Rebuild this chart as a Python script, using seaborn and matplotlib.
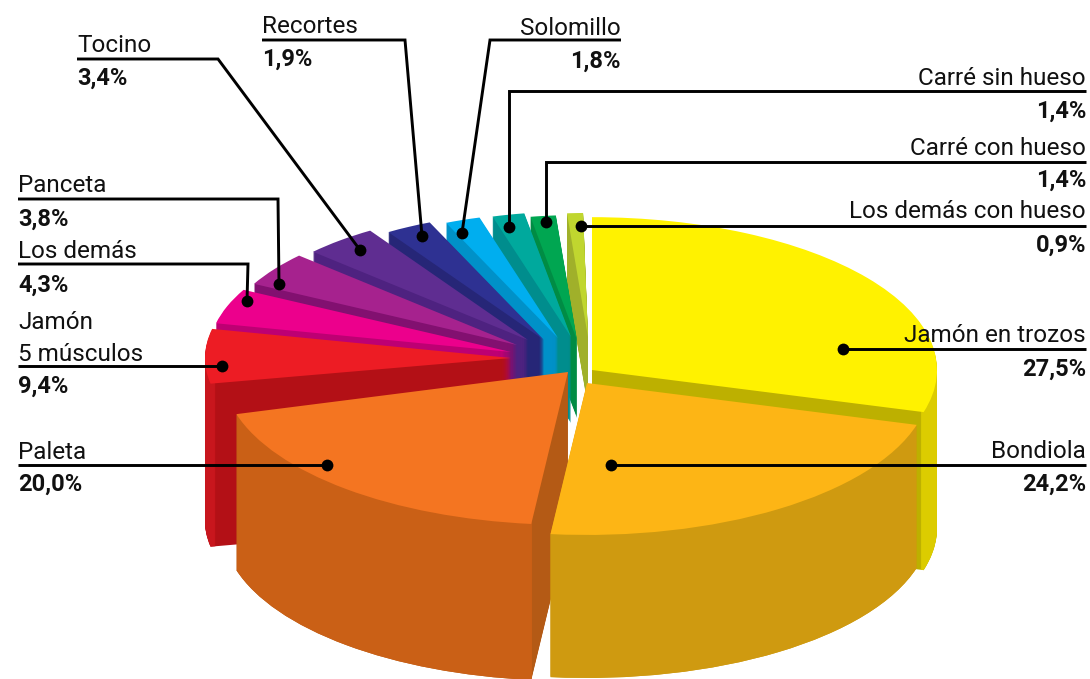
import numpy as np
import matplotlib
matplotlib.use("Agg")
import matplotlib.pyplot as plt
from matplotlib.patches import Wedge
import seaborn as sns

# ---- data ----
categories = ["Jamón en trozos", "Bondiola", "Paleta", "Jamón\n5 músculos", "Los demás", "Panceta",
              "Tocino", "Recortes", "Solomillo", "Carré sin hueso", "Carré con hueso", "Los demás con hueso"]
values = [27.5, 24.2, 20.0, 9.4, 4.3, 3.8, 3.4, 1.9, 1.8, 1.4, 1.4, 0.9]
value_labels = ["27,5%", "24,2%", "20,0%", "9,4%", "4,3%", "3,8%", "3,4%", "1,9%", "1,8%", "1,4%", "1,4%", "0,9%"]

# ---- colours ----
top_colors = ["#FFF200", "#FDB515", "#F47521", "#ED1C24", "#EC008C", "#A6228E",
              "#5F2D91", "#2E3192", "#00AEEF", "#00A99D", "#00A651", "#C0D62F"]
cut_colors = ["#BDB000", "#CF9A10", "#B45A15", "#B31016", "#BD0073", "#821070",
              "#4E2280", "#262677", "#0091C8", "#008D8D", "#008C44", "#A0B02A"]
rim_colors = ["#DCCC00", "#CF9A10", "#CA6016", "#C8161D", "#BD0073", "#821070",
              "#4E2280", "#262677", "#0091C8", "#008D8D", "#008C44", "#A0B02A"]

# ---- layout of the exploded 3-D look (pixels of a 1090x679 canvas) ----
K = 0.443
apex_x = [592, 587, 568, 511, 511, 517, 528, 544, 558, 571, 577, 588]
apex_y = [370, 383, 372, 358, 352, 345, 340, 340, 338, 337, 340, 337]
radius = [345, 343, 345, 306, 302, 297, 293, 289, 283, 283, 282, 280]
depth = [158, 143, 156, 163, 85, 85, 85, 85, 85, 86, 78, 70]
rim_width = [3, 8, 8, 5, 3, 3, 3, 3, 3, 3, 3, 3]
paint_order = [11, 10, 9, 8, 7, 6, 5, 4, 3, 0, 2, 1]
# the printed chart's angular distortion: data angle -> drawn angle (deg clockwise from top)
front_in, front_out = [0, 99, 186, 258], [0, 106, 186, 254]
back_in = [258, 291.96, 307.44, 321.12, 333.36, 340.2, 346.68, 351.72, 356.76, 360]
back_out = [259, 282.4, 297.7, 312.8, 327.4, 336.7, 343.9, 350.5, 355.7, 359]

# ---- label layout ----
leaders = [
    ([(1086, 349), (843, 349)]), ([(1086, 465), (611, 465)]), ([(18, 465), (327, 465)]),
    ([(18, 366), (222, 366)]), ([(18, 264), (248, 264), (247, 301)]),
    ([(18, 199), (278, 199), (279, 284)]), ([(77, 59), (218, 59), (360, 250)]),
    ([(262, 40), (405, 40), (422, 236)]), ([(621, 40), (490, 40), (462, 233)]),
    ([(1086, 91), (509, 91), (509, 227)]), ([(1086, 162), (546, 162), (546, 222)]),
    ([(1086, 226), (581, 226)]),
]
text_x = [1086, 1086, 18, 18, 18, 18, 77, 262, 621, 1086, 1086, 1086]
text_ha = ["right", "right", "left", "left", "left", "left", "left", "left", "right", "right", "right", "right"]
name_base = [342, 458, 459, 361, 258, 192, 52, 33, 35, 85, 155, 218]
pct_base = [376, 491, 491, 393, 292, 226, 85, 66, 68, 118, 187, 252]

sns.set_theme(style="white")
plt.rcParams["font.family"] = ["Roboto", "DejaVu Sans"]

fig = plt.figure(figsize=(10.9, 6.79), dpi=100)
ax = fig.add_axes([0, 0, 1, 1])
wedges, _ = ax.pie(values, startangle=90, counterclock=False, radius=1)
ax.set_aspect("auto")
ax.set_xlim(0, 1090)
ax.set_ylim(0, 679 / K)
ax.axis("off")


def to_y(py):
    return (679 - py) / K


for z, i in enumerate(paint_order):
    w = wedges[i]
    cw_a, cw_b = 90 - w.theta2, 90 - w.theta1
    if i <= 2:
        a, b = np.interp([cw_a, cw_b], front_in, front_out)
    else:
        a, b = np.interp([cw_a, cw_b], back_in, back_out)
    t1, t2 = 90 - b, 90 - a
    base = z * 1000
    # cut wall: the sector stacked downwards
    for d in range(depth[i], 0, -1):
        ax.add_patch(Wedge((apex_x[i], to_y(apex_y[i] + d)), radius[i], t1, t2, fc=cut_colors[i],
                           ec="none", lw=0, zorder=base + 1))
    # outer wall: only the front half of the rim is visible
    r1, r2 = max(t1, -180), min(t2, 0)
    if r2 > r1:
        for d in range(depth[i], 0, -1):
            ax.add_patch(Wedge((apex_x[i], to_y(apex_y[i] + d)), radius[i], r1, r2, width=rim_width[i],
                               fc=rim_colors[i], ec="none", lw=0, zorder=base + 2))
    # top face: the pie's own wedge
    w.set_center((apex_x[i], to_y(apex_y[i])))
    w.set_radius(radius[i])
    w.set_theta1(t1)
    w.set_theta2(t2)
    w.set_facecolor(top_colors[i])
    w.set_edgecolor("none")
    w.set_linewidth(0)
    w.set_zorder(base + 3)

# overlay in pixel coordinates for the labels
ov = fig.add_axes([0, 0, 1, 1], facecolor="none")
ov.set_xlim(0, 1090)
ov.set_ylim(679, 0)
ov.axis("off")
for i, path in enumerate(leaders):
    xs, ys = zip(*path)
    ov.plot(xs, ys, color="black", lw=2.1, solid_joinstyle="miter", solid_capstyle="butt")
    ov.plot(xs[-1], ys[-1], "o", color="black", ms=8.5, mew=0)
    ov.text(text_x[i], name_base[i], categories[i], ha=text_ha[i], va="baseline", fontsize=17.5,
            color="#111111", linespacing=1.52)
    ov.text(text_x[i], pct_base[i], value_labels[i], ha=text_ha[i], va="baseline", fontsize=17,
            fontweight="bold", color="#111111")

fig.savefig("out.png", dpi=100, facecolor="white")
